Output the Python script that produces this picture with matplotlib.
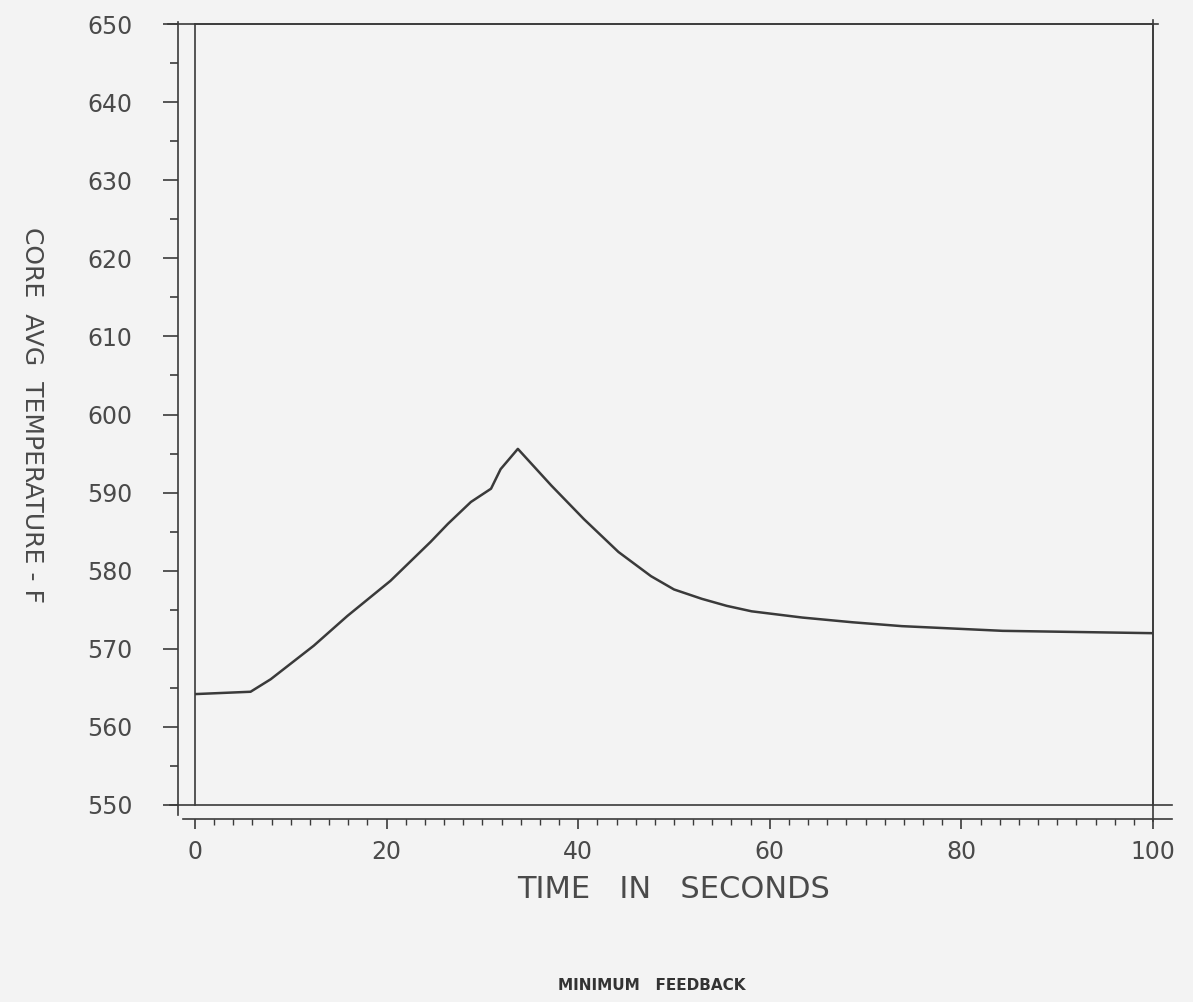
import matplotlib
matplotlib.use("Agg")
import matplotlib.pyplot as plt
from matplotlib.ticker import MultipleLocator, FixedLocator

# ---- data ----
time_s = [0, 5.8, 7.9, 12.4, 15.9, 20.4, 24.6, 26.4, 28.8, 30.9, 31.9, 33.7,
          37.2, 40.6, 44.2, 47.6, 50.0, 52.9, 55.5, 58.1, 63.4, 68.6, 73.8,
          84.3, 100]
core_avg_temp = [564.2, 564.5, 566.1, 570.4, 574.2, 578.7, 583.7, 586.0, 588.8,
                 590.5, 593.0, 595.6, 590.9, 586.6, 582.4, 579.3, 577.6, 576.4,
                 575.5, 574.8, 574.0, 573.4, 572.9, 572.3, 572.0]
x_ticks = [0, 20, 40, 60, 80, 100]
x_tick_labels = ["0", "20", "40", "60", "80", "100"]
y_ticks = [550, 560, 570, 580, 590, 600, 610, 620, 630, 640, 650]
y_tick_labels = ["550", "560", "570", "580", "590", "600", "610", "620", "630", "640", "650"]
x_label = "TIME   IN   SECONDS"
y_label = "CORE  AVG  TEMPERATURE - F"
caption = "MINIMUM   FEEDBACK"

bg = "#f3f3f3"
ink = "#3a3a3a"
txt = "#4a4a4a"

fig = plt.figure(figsize=(11.93, 10.02), dpi=100, facecolor=bg)
ax = fig.add_axes([195 / 1193, 1 - 805 / 1002, 958 / 1193, 781 / 1002])
ax.set_facecolor(bg)

ax.plot(time_s, core_avg_temp, color=ink, lw=1.8, solid_joinstyle="round")

ax.set_xlim(0, 100)
ax.set_ylim(550, 650)

# spines
for s in ax.spines.values():
    s.set_color(ink)
    s.set_linewidth(1.2)
ax.spines["left"].set_position(("outward", 12))
ax.spines["bottom"].set_position(("outward", 10))
ax.spines["left"].set_bounds(548.7, 650.3)
ax.spines["bottom"].set_bounds(-1.3, 102)

# inner frame lines
ax.axvline(0, color=ink, lw=1.2, clip_on=False)
ax.axhline(550, xmin=-0.026, xmax=1.02, color=ink, lw=1.2, clip_on=False)
ax.axhline(650, xmin=-0.028, xmax=1.005, color=ink, lw=1.2, clip_on=False)
ax.axvline(100, ymin=-0.02, ymax=1.005, color=ink, lw=1.2, clip_on=False)

# ticks
ax.xaxis.set_major_locator(FixedLocator(x_ticks))
ax.set_xticklabels(x_tick_labels)
ax.xaxis.set_minor_locator(MultipleLocator(2))
ax.yaxis.set_major_locator(FixedLocator(y_ticks))
ax.set_yticklabels(y_tick_labels)
ax.yaxis.set_minor_locator(MultipleLocator(5))

ax.tick_params(axis="both", which="major", color=ink, width=1.2, labelcolor=txt,
               labelsize=17)
ax.tick_params(axis="y", which="major", length=11, pad=22)
ax.tick_params(axis="y", which="minor", length=6, width=1.2, color=ink)
ax.tick_params(axis="x", which="major", length=7, pad=8)
ax.tick_params(axis="x", which="minor", length=4, width=1.0, color=ink)

ax.set_xlabel(x_label, fontsize=22, color=txt, labelpad=8)
ax.yaxis.set_label_coords(-0.17, 0.71)
ax.set_ylabel(y_label, fontsize=18, color=txt, rotation=270, va="center")

fig.text(652 / 1193, 1 - 985 / 1002, caption, fontsize=11, fontweight="bold",
         color="#333333", ha="center", va="center")

fig.savefig("out.png", dpi=100, facecolor=bg)
